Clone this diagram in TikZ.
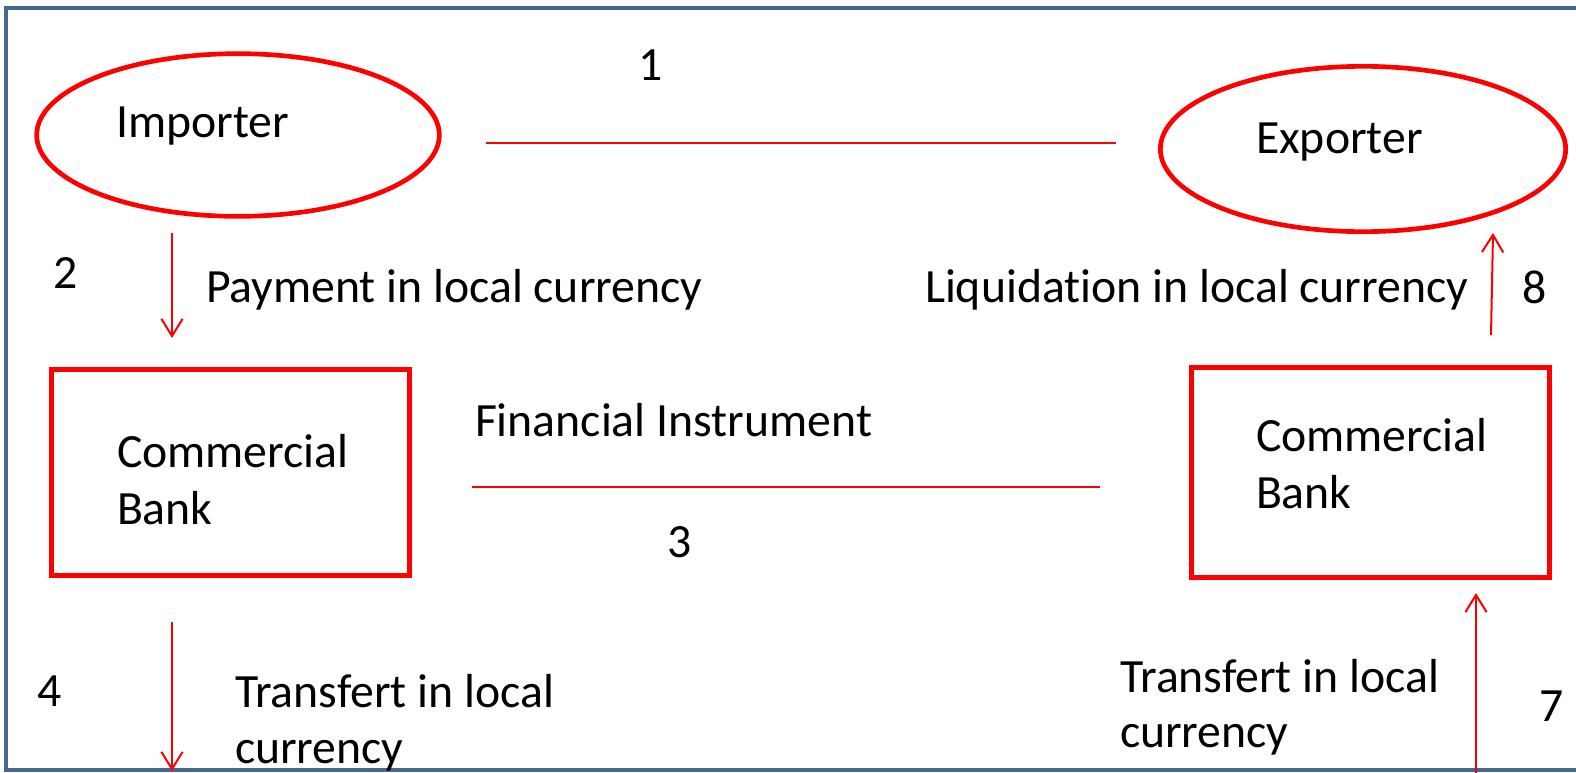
\documentclass[tikz,border=0pt]{standalone}
\usepackage{fontspec}
\setmainfont{Carlito}[RawFeature={-liga;-clig;-calt}]
\usetikzlibrary{arrows.meta,shapes.geometric}
\definecolor{frameblue}{HTML}{46678F}
\begin{document}
\begin{tikzpicture}[x=0.75pt,y=-0.75pt,
  lbl/.style={font=\fontsize{35.8}{43}\selectfont, inner sep=0pt, outer sep=0pt, text=black},
  ell/.style={draw=red, line width=3.5pt, ellipse, inner sep=0pt},
  bankbox/.style={draw=red, line width=3.75pt, rectangle, inner sep=0pt},
  link/.style={draw=red, line width=1.5pt},
  flow/.style={link, -{Straight Barb[length=13pt,width=16pt,line width=1.5pt]}}]
\useasboundingbox (0,0) rectangle (1576,772);
\clip (0,0) rectangle (1576,772);
\draw[frameblue, line width=3pt] (6,7.5) rectangle (1640,770);

% shapes
\node[ell, minimum width=302pt, minimum height=122pt] (imp) at (238,135) {};
\node[ell, minimum width=304pt, minimum height=124pt] (exp) at (1363,149) {};
\node[bankbox, minimum width=268.5pt, minimum height=155pt] (bankL) at (230,472.5) {};
\node[bankbox, minimum width=269pt, minimum height=157pt] (bankR) at (1370.5,472.5) {};

% texts
\node[lbl, anchor=base west] (impt) at (116,137) {Importer};
\node[lbl, anchor=base west] (expt) at (1256,153) {Exporter};
\node[lbl, anchor=base west] (bankLa) at (117,467) {Commercial};
\node[lbl, anchor=base west] (bankLb) at (117,524) {Bank};
\node[lbl, anchor=base west] (bankRa) at (1256,451) {Commercial};
\node[lbl, anchor=base west] (bankRb) at (1256,508) {Bank};
\node[lbl] (n1) at (651,65) {1};
\node[lbl] (n2) at (66,273) {2};
\node[lbl] (n3) at (680,542) {3};
\node[lbl] (n4) at (50,691) {4};
\node[lbl] (n7) at (1552,706) {7};
\node[lbl] (n8) at (1535,287) {8};
\node[lbl, anchor=base west] (pay) at (206,302) {Payment in local currency};
\node[lbl, anchor=base west] (liq) at (925,302) {Liquidat\kern0pt ion in local currency};
\node[lbl, anchor=base west] (fin) at (475,436) {Financial Instrument};
\node[lbl, anchor=base west] (trLa) at (235,707) {Transfert in local};
\node[lbl, anchor=base west] (trLb) at (235,763) {currency};
\node[lbl, anchor=base west] (trRa) at (1120,692) {Transfert in local};
\node[lbl, anchor=base west] (trRb) at (1120,747) {currency};

% connector ends
\coordinate (l1a) at (486,143);
\coordinate (l1b) at (1116,143);
\coordinate (l3a) at (472,487);
\coordinate (l3b) at (1100,487);
\coordinate (a2s) at (172,233);
\coordinate (a2e) at (172,338);
\coordinate (a4s) at (172,622);
\coordinate (a4e) at (172,771);
\coordinate (a7s) at (1476,780);
\coordinate (a7e) at (1476,593);
\coordinate (a8s) at (1491,335);
\coordinate (a8e) at (1493,233);

% connectors
\draw[link] (l1a) -- (l1b);
\draw[link] (l3a) -- (l3b);
\draw[flow] (a2s) -- (a2e);
\draw[flow] (a4s) -- (a4e);
\draw[flow] (a7s) -- (a7e);
\draw[flow] (a8s) -- (a8e);
\end{tikzpicture}
\end{document}
